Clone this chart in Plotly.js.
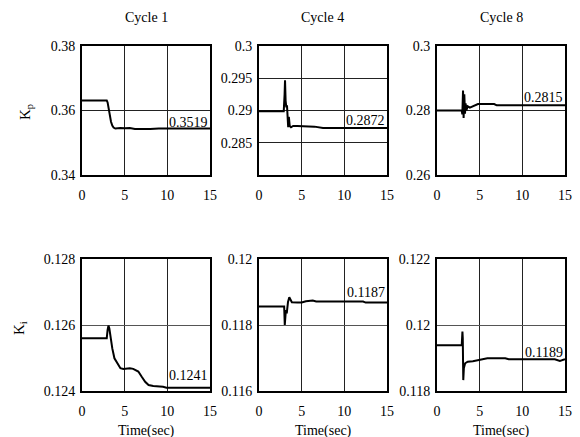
<!DOCTYPE html>
<html><head><meta charset="utf-8">
<script src="https://cdn.plot.ly/plotly-3.0.1.min.js"></script>
<style>body{margin:0;padding:0;background:#fff}#c{width:580px;height:437px}</style>
</head><body><div id="c"></div>
<script>
// Data
const cycles = ["Cycle 1", "Cycle 4", "Cycle 8"];
const finalKp = ["0.3519", "0.2872", "0.2815"];
const finalKi = ["0.1241", "0.1187", "0.1189"];

const kp1_t = [0, 2.9, 3.0, 3.15, 3.25, 3.4, 3.55, 3.7, 3.9, 4.2, 4.5, 5.0, 5.6, 6.2, 7.2, 8.0, 9.0, 15];
const kp1_v = [0.3631, 0.3631, 0.3625, 0.3600, 0.3585, 0.3565, 0.3553, 0.3547, 0.3544, 0.3545, 0.3546, 0.3545, 0.3546, 0.3543, 0.3542, 0.3543, 0.3544, 0.3544];

const kp4_t = [0, 2.9, 3.0, 3.05, 3.12, 3.2, 3.28, 3.35, 3.42, 3.5, 3.6, 3.75, 4.0, 4.5, 5.5, 6.5, 7.5, 9, 10, 12, 15];
const kp4_v = [0.2899, 0.2899, 0.2925, 0.2947, 0.2915, 0.2905, 0.2908, 0.2885, 0.2874, 0.2890, 0.2876, 0.2874, 0.2876, 0.2876, 0.2876, 0.2875, 0.2873, 0.2873, 0.2874, 0.2874, 0.2873];

const kp8_t = [0, 2.9, 2.97, 3.05, 3.12, 3.2, 3.28, 3.35, 3.45, 3.6, 3.85, 4.1, 4.8, 6.7, 7.0, 15];
const kp8_v = [0.2800, 0.2800, 0.2788, 0.2862, 0.2777, 0.2850, 0.2790, 0.2822, 0.2801, 0.2813, 0.2809, 0.2812, 0.2820, 0.2820, 0.2816, 0.2816];

const ki1_t = [0, 2.9, 3.0, 3.1, 3.2, 3.3, 3.55, 3.8, 4.15, 4.5, 4.85, 5.6, 6.0, 6.6, 7.0, 7.4, 7.8, 8.35, 9.5, 9.9, 15];
const ki1_v = [0.12560, 0.12560, 0.12585, 0.12598, 0.12590, 0.12570, 0.12529, 0.12499, 0.12484, 0.12469, 0.12467, 0.12469, 0.12467, 0.12459, 0.12443, 0.12428, 0.12418, 0.12415, 0.12413, 0.12410, 0.12410];

const ki4_t = [0, 2.95, 3.02, 3.08, 3.15, 3.25, 3.4, 3.55, 3.85, 4.5, 5.0, 5.5, 6.3, 6.7, 12.2, 12.5, 15];
const ki4_v = [0.11856, 0.11856, 0.11800, 0.11830, 0.11845, 0.11835, 0.11870, 0.11884, 0.11869, 0.11868, 0.11868, 0.11872, 0.11874, 0.11871, 0.11871, 0.11868, 0.11868];

const ki8_t = [0, 2.9, 2.98, 3.02, 3.08, 3.15, 3.3, 3.6, 4.2, 4.8, 5.9, 8.0, 8.4, 13.8, 14.4, 15];
const ki8_v = [0.11939, 0.11939, 0.11980, 0.11960, 0.11833, 0.11870, 0.11884, 0.11889, 0.11890, 0.11894, 0.11899, 0.11899, 0.11896, 0.11896, 0.11891, 0.11896];

const xTicks = [0, 5, 10, 15];
const yTicksKp1 = [0.34, 0.36, 0.38], yTextKp1 = ["0.34", "0.36", "0.38"];
const yTicksKp4 = [0.285, 0.29, 0.295, 0.3], yTextKp4 = ["0.285", "0.29", "0.295", "0.3"];
const yTicksKp8 = [0.26, 0.28, 0.3], yTextKp8 = ["0.26", "0.28", "0.3"];
const yTicksKi1 = [0.124, 0.126, 0.128], yTextKi1 = ["0.124", "0.126", "0.128"];
const yTicksKi4 = [0.116, 0.118, 0.12], yTextKi4 = ["0.116", "0.118", "0.12"];
const yTicksKi8 = [0.118, 0.12, 0.122], yTextKi8 = ["0.118", "0.12", "0.122"];
const xTitle = "Time(sec)";

const font = "Liberation Serif";
const FS = 14;
const series = [[kp1_t, kp1_v], [kp4_t, kp4_v], [kp8_t, kp8_v], [ki1_t, ki1_v], [ki4_t, ki4_v], [ki8_t, ki8_v]];
const yRanges = [[0.34, 0.38], [0.28, 0.30], [0.26, 0.30], [0.124, 0.128], [0.116, 0.12], [0.118, 0.122]];
const yTV = [yTicksKp1, yTicksKp4, yTicksKp8, yTicksKi1, yTicksKi4, yTicksKi8];
const yTT = [yTextKp1, yTextKp4, yTextKp8, yTextKi1, yTextKi4, yTextKi8];
const finals = finalKp.concat(finalKi);

const W = 580, H = 437;
const xDom = [[82, 210], [259, 387], [437, 565]];
const yDom = [[46, 175], [259, 391]];
const annY = [0.406, 0.419, 0.597, 0.121, 0.75, 0.295];

const traces = [];
const layout = {
  width: W, height: H, margin: {l: 0, r: 0, t: 0, b: 0},
  paper_bgcolor: "#fff", plot_bgcolor: "#fff", showlegend: false,
  font: {family: font, size: FS, color: "#000"},
  annotations: []
};
for (let i = 0; i < 6; i++) {
  const row = Math.floor(i / 3), col = i % 3;
  const n = i + 1;
  const xa = "x" + (n === 1 ? "" : n), ya = "y" + (n === 1 ? "" : n);
  traces.push({x: series[i][0], y: series[i][1], xaxis: xa, yaxis: ya, mode: "lines",
    line: {color: "#000", width: 2}, hoverinfo: "skip"});
  const xd = xDom[col], yd = yDom[row];
  layout["xaxis" + (n === 1 ? "" : n)] = {
    domain: [xd[0] / W, xd[1] / W], anchor: ya, range: [0, 15],
    tickmode: "array", tickvals: xTicks, ticktext: xTicks.map(String), ticks: "", ticklabelstandoff: 6,
    showgrid: true, gridcolor: "#222", gridwidth: 1, zeroline: false,
    showline: true, linecolor: "#000", linewidth: 2, mirror: true
  };
  layout["yaxis" + (n === 1 ? "" : n)] = {
    domain: [(H - yd[1]) / H, (H - yd[0]) / H], anchor: xa, range: yRanges[i],
    tickmode: "array", tickvals: yTV[i], ticktext: yTT[i], ticks: "", ticklabelstandoff: 2,
    showgrid: true, gridcolor: row === 1 ? "#555" : "#222", gridwidth: 1, zeroline: false,
    showline: true, linecolor: "#000", linewidth: 2, mirror: true
  };
  layout.annotations.push({text: finals[i], xref: xa + " domain", yref: ya + " domain",
    x: 1, y: annY[i], xanchor: "right", yanchor: "middle", showarrow: false,
    font: {family: font, size: FS, color: "#000"}});
  if (row === 0) {
    layout.annotations.push({text: cycles[col], xref: "paper", yref: "paper",
      x: (xd[0] + xd[1]) / 2 / W, y: (H - 18) / H, xanchor: "center", yanchor: "middle",
      showarrow: false, font: {family: font, size: FS, color: "#000"}});
  } else {
    layout.annotations.push({text: xTitle, xref: xa + " domain", yref: "paper",
      x: 0.5, y: (H - 431) / H, xanchor: "center", yanchor: "middle",
      showarrow: false, font: {family: font, size: FS, color: "#000"}});
  }
}
layout.annotations.push({text: "K<sub>p</sub>", xref: "paper", yref: "paper", x: 26 / W, y: (H - 112) / H,
  textangle: -90, xanchor: "center", yanchor: "middle", showarrow: false, font: {family: font, size: 15, color: "#000"}});
layout.annotations.push({text: "K<sub>i</sub>", xref: "paper", yref: "paper", x: 20 / W, y: (H - 328) / H,
  textangle: -90, xanchor: "center", yanchor: "middle", showarrow: false, font: {family: font, size: 15, color: "#000"}});

Plotly.newPlot("c", traces, layout, {staticPlot: true, displayModeBar: false});
</script></body></html>
